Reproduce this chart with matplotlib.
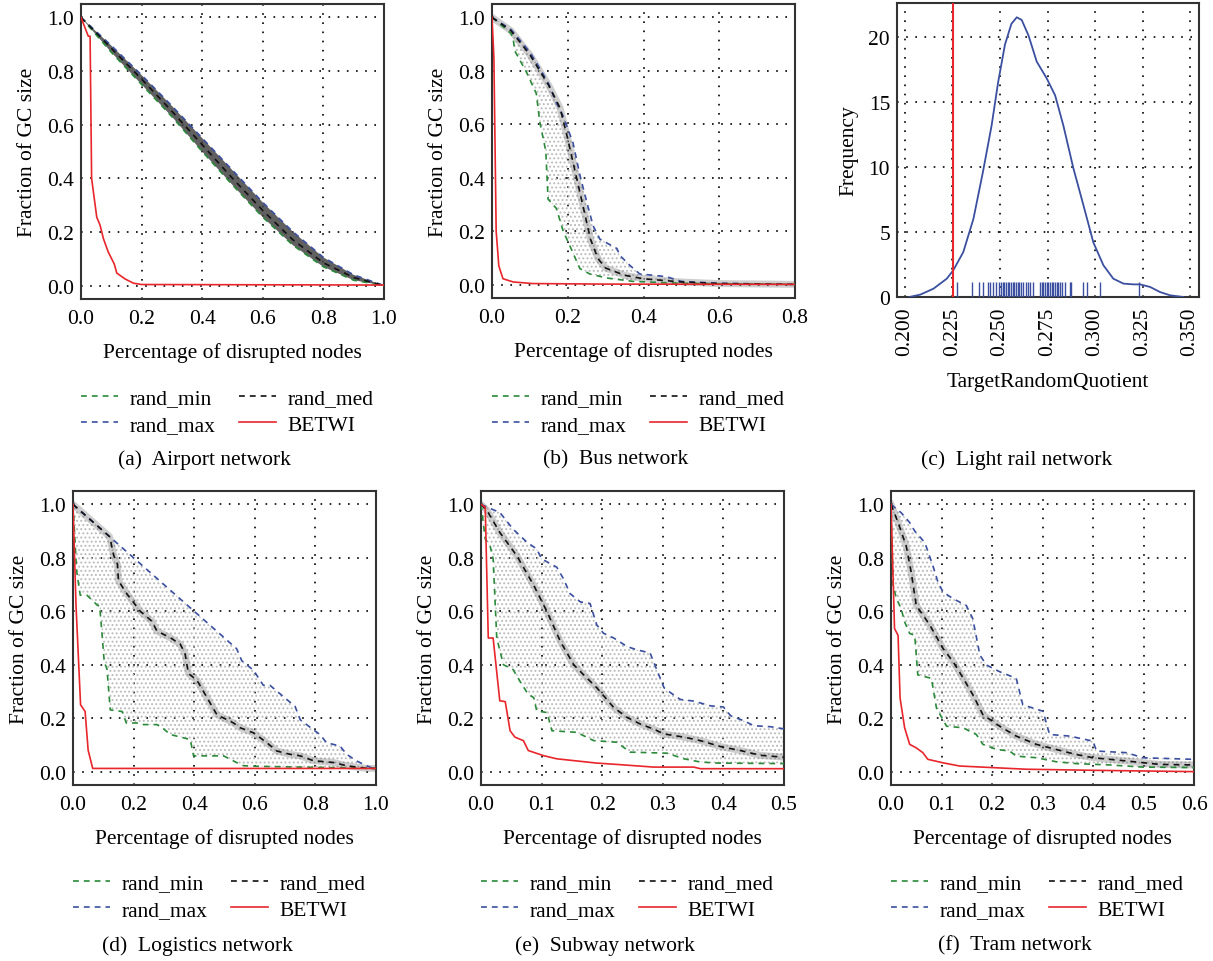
import numpy as np
import matplotlib.pyplot as plt
from matplotlib.lines import Line2D

plt.rcParams['font.family'] = ['Liberation Serif', 'DejaVu Serif']
plt.rcParams['font.size'] = 15.5
plt.rcParams['hatch.linewidth'] = 0.9

W, H = 1213, 962

GREEN = '#2a8a3a'
BLUE = '#3b4fa0'
RED = '#e8262b'
BLACK = '#111111'
DASH = (3.5, 3)

# ---------------- (a) Airport network
air_min_x = [0, 0.1, 0.2, 0.3, 0.4, 0.5, 0.6, 0.7, 0.8, 0.9, 1.0]
air_min_y = [1.0, 0.87, 0.75, 0.63, 0.50, 0.375, 0.255, 0.15, 0.07, 0.02, 0.0]
air_med_x = [0, 0.1, 0.2, 0.3, 0.4, 0.5, 0.6, 0.7, 0.8, 0.9, 1.0]
air_med_y = [1.0, 0.885, 0.77, 0.65, 0.525, 0.40, 0.28, 0.17, 0.085, 0.03, 0.0]
air_max_x = [0, 0.1, 0.2, 0.3, 0.4, 0.5, 0.6, 0.7, 0.8, 0.9, 1.0]
air_max_y = [1.0, 0.895, 0.785, 0.67, 0.55, 0.43, 0.31, 0.20, 0.105, 0.04, 0.0]
air_bet_x = [0, 0.024, 0.03, 0.035, 0.052, 0.063, 0.074, 0.09, 0.11, 0.118, 0.145, 0.173, 0.2, 1.0]
air_bet_y = [1.0, 0.93, 0.93, 0.40, 0.255, 0.225, 0.175, 0.125, 0.08, 0.047, 0.025, 0.009, 0.004, 0.002]

# ---------------- (b) Bus network
bus_min_x = [0, 0.05, 0.056, 0.06, 0.091, 0.117, 0.126, 0.142, 0.148, 0.17, 0.188, 0.205, 0.232, 0.258, 0.302, 0.373, 0.5, 0.8]
bus_min_y = [1.0, 0.94, 0.92, 0.875, 0.795, 0.715, 0.61, 0.50, 0.32, 0.285, 0.20, 0.147, 0.06, 0.04, 0.025, 0.012, 0.005, 0.001]
bus_med_x = [0, 0.05, 0.1, 0.15, 0.18, 0.2, 0.22, 0.24, 0.26, 0.28, 0.3, 0.35, 0.4, 0.5, 0.6, 0.8]
bus_med_y = [1.0, 0.95, 0.86, 0.745, 0.66, 0.545, 0.42, 0.296, 0.17, 0.097, 0.062, 0.035, 0.022, 0.01, 0.004, 0.001]
bus_max_x = [0, 0.05, 0.1, 0.13, 0.15, 0.17, 0.188, 0.214, 0.232, 0.25, 0.267, 0.285, 0.33, 0.337, 0.364, 0.39, 0.46, 0.5, 0.6, 0.8]
bus_max_y = [1.0, 0.955, 0.87, 0.80, 0.75, 0.68, 0.63, 0.53, 0.41, 0.31, 0.22, 0.17, 0.135, 0.11, 0.072, 0.04, 0.03, 0.012, 0.005, 0.001]
bus_bet_x = [0, 0.005, 0.011, 0.018, 0.029, 0.056, 0.108, 0.3, 0.8]
bus_bet_y = [1.0, 0.85, 0.20, 0.07, 0.022, 0.01, 0.004, 0.002, 0.001]

# ---------------- (c) Light rail network
lr_kde_x = [0.2023, 0.208, 0.215, 0.222, 0.2254, 0.2307, 0.236, 0.241, 0.2456, 0.249, 0.2526, 0.256,
            0.2588, 0.2614, 0.265, 0.2693, 0.2746, 0.279, 0.2833, 0.2886, 0.2939, 0.2991, 0.3044,
            0.3096, 0.3149, 0.3202, 0.3237, 0.329, 0.3342, 0.3395, 0.3465]
lr_kde_y = [0.0, 0.18, 0.64, 1.41, 2.05, 3.46, 6.0, 9.6, 13.2, 16.5, 19.4, 21.0,
            21.5, 21.3, 20.1, 18.1, 16.8, 15.5, 13.2, 9.9, 7.05, 4.2, 2.44,
            1.41, 1.03, 0.97, 0.97, 0.77, 0.38, 0.13, 0.0]
lr_rug = [0.2272, 0.2351, 0.2391, 0.2409, 0.2439, 0.2447, 0.2465, 0.2479, 0.2497, 0.2505, 0.2514,
          0.2523, 0.2532, 0.2540, 0.2549, 0.2558, 0.2567, 0.2575, 0.2584, 0.2593, 0.2602, 0.2611,
          0.2619, 0.2637, 0.2646, 0.2658, 0.2675, 0.2711, 0.2719, 0.2728, 0.2737, 0.2746, 0.2754,
          0.2763, 0.2772, 0.2781, 0.2789, 0.2798, 0.2807, 0.2816, 0.2825, 0.2842, 0.2868, 0.2874,
          0.2939, 0.2956, 0.3026, 0.3233]
lr_target = 0.2254

# ---------------- (d) Logistics network
log_min_x = [0, 0.012, 0.024, 0.046, 0.079, 0.088, 0.096, 0.103, 0.112, 0.123, 0.162, 0.176, 0.211,
             0.233, 0.277, 0.299, 0.321, 0.387, 0.398, 0.497, 0.54, 0.563, 0.607, 1.0]
log_min_y = [1.0, 0.75, 0.66, 0.66, 0.624, 0.618, 0.513, 0.41, 0.385, 0.231, 0.225, 0.182, 0.182,
             0.176, 0.176, 0.16, 0.139, 0.12, 0.059, 0.059, 0.034, 0.022, 0.02, 0.012]
log_med_x = [0, 0.12, 0.123, 0.134, 0.147, 0.15, 0.178, 0.222, 0.26, 0.277, 0.321, 0.354, 0.37, 0.381,
             0.409, 0.453, 0.475, 0.53, 0.552, 0.596, 0.64, 0.673, 0.716, 0.75, 0.793, 0.86, 0.903, 0.969, 1.0]
log_med_y = [1.0, 0.88, 0.87, 0.81, 0.775, 0.714, 0.665, 0.60, 0.563, 0.526, 0.501, 0.477, 0.44, 0.367,
             0.342, 0.256, 0.213, 0.182, 0.164, 0.145, 0.108, 0.077, 0.065, 0.059, 0.041, 0.034, 0.022, 0.012, 0.012]
log_max_x = [0, 0.54, 0.557, 0.596, 0.628, 0.65, 0.695, 0.733, 0.75, 0.793, 0.815, 0.837, 0.881, 0.903,
             0.936, 0.969, 0.99, 1.0]
log_max_y = [1.0, 0.46, 0.415, 0.379, 0.323, 0.323, 0.28, 0.244, 0.194, 0.157, 0.139, 0.108, 0.096, 0.065,
             0.04, 0.022, 0.012, 0.012]
log_bet_x = [0, 0.01, 0.025, 0.04, 0.05, 0.065, 1.0]
log_bet_y = [1.0, 0.62, 0.25, 0.225, 0.08, 0.012, 0.012]

# ---------------- (e) Subway network
sub_min_x = [0, 0.007, 0.015, 0.02, 0.026, 0.037, 0.053, 0.064, 0.078, 0.087, 0.092, 0.109, 0.117, 0.158,
             0.186, 0.224, 0.246, 0.307, 0.335, 0.362, 0.39, 0.5]
sub_min_y = [1.0, 0.87, 0.845, 0.796, 0.50, 0.40, 0.382, 0.339, 0.289, 0.277, 0.227, 0.221, 0.153, 0.147,
             0.116, 0.11, 0.073, 0.069, 0.048, 0.036, 0.032, 0.03]
sub_med_x = [0, 0.009, 0.031, 0.059, 0.087, 0.109, 0.131, 0.153, 0.169, 0.191, 0.219, 0.241, 0.263, 0.285,
             0.302, 0.335, 0.362, 0.395, 0.428, 0.461, 0.5]
sub_med_y = [1.0, 0.98, 0.895, 0.808, 0.697, 0.598, 0.487, 0.40, 0.363, 0.314, 0.24, 0.203, 0.178, 0.159,
             0.141, 0.129, 0.116, 0.094, 0.079, 0.061, 0.054]
sub_max_x = [0, 0.02, 0.031, 0.053, 0.076, 0.092, 0.1, 0.125, 0.136, 0.147, 0.164, 0.18, 0.191, 0.202,
             0.219, 0.241, 0.257, 0.279, 0.302, 0.313, 0.329, 0.351, 0.379, 0.4, 0.412, 0.434, 0.45, 0.478, 0.5]
sub_max_y = [1.0, 0.98, 0.97, 0.907, 0.858, 0.833, 0.796, 0.765, 0.722, 0.666, 0.635, 0.629, 0.549, 0.518,
             0.50, 0.468, 0.456, 0.444, 0.314, 0.295, 0.27, 0.264, 0.246, 0.242, 0.209, 0.19, 0.172, 0.168, 0.16]
sub_bet_x = [0, 0.007, 0.012, 0.02, 0.031, 0.04, 0.048, 0.056, 0.07, 0.078, 0.103, 0.125, 0.158, 0.191,
             0.224, 0.285, 0.351, 0.362, 0.5]
sub_bet_y = [1.0, 0.99, 0.50, 0.50, 0.265, 0.262, 0.153, 0.129, 0.116, 0.079, 0.06, 0.048, 0.04, 0.032,
             0.027, 0.017, 0.017, 0.011, 0.011]

# ---------------- (f) Tram network
tram_min_x = [0, 0.004, 0.011, 0.02, 0.027, 0.037, 0.047, 0.053, 0.08, 0.09, 0.11, 0.143, 0.156, 0.169,
              0.182, 0.209, 0.235, 0.248, 0.288, 0.327, 0.367, 0.433, 0.499, 0.6]
tram_min_y = [1.0, 0.696, 0.647, 0.61, 0.56, 0.517, 0.51, 0.362, 0.349, 0.238, 0.17, 0.164, 0.151, 0.139,
              0.102, 0.083, 0.077, 0.058, 0.052, 0.037, 0.03, 0.025, 0.017, 0.015]
tram_med_x = [0, 0.014, 0.03, 0.04, 0.05, 0.077, 0.103, 0.123, 0.139, 0.162, 0.182, 0.215, 0.248, 0.288,
              0.327, 0.367, 0.4, 0.466, 0.532, 0.6]
tram_med_y = [1.0, 0.932, 0.845, 0.746, 0.622, 0.548, 0.461, 0.411, 0.362, 0.288, 0.213, 0.17, 0.133, 0.102,
              0.083, 0.064, 0.052, 0.04, 0.027, 0.025]
tram_max_x = [0, 0.02, 0.037, 0.047, 0.067, 0.083, 0.093, 0.103, 0.123, 0.149, 0.162, 0.176, 0.189, 0.215,
              0.248, 0.261, 0.301, 0.314, 0.354, 0.4, 0.407, 0.466, 0.499, 0.6]
tram_max_y = [1.0, 0.969, 0.932, 0.90, 0.857, 0.77, 0.709, 0.672, 0.647, 0.622, 0.572, 0.436, 0.399, 0.374,
              0.349, 0.25, 0.226, 0.139, 0.133, 0.114, 0.077, 0.071, 0.052, 0.046]
tram_bet_x = [0, 0.007, 0.014, 0.018, 0.027, 0.037, 0.05, 0.063, 0.073, 0.103, 0.136, 0.202, 0.268, 0.4, 0.6]
tram_bet_y = [1.0, 0.535, 0.51, 0.275, 0.164, 0.102, 0.089, 0.071, 0.046, 0.033, 0.021, 0.015, 0.009, 0.005, 0.0]


def add_ax(fig, left, top, right, bottom):
    return fig.add_axes([left / W, 1 - bottom / H, (right - left) / W, (bottom - top) / H])


def style_ax(ax):
    ax.grid(True, color='k', lw=1.2, linestyle=(0, (1, 4.5)))
    ax.set_axisbelow(True)
    for s in ax.spines.values():
        s.set_color('#333333')
        s.set_linewidth(1.5)
    ax.tick_params(axis='x', length=0, pad=7)
    ax.tick_params(axis='y', length=0, pad=5)


def gc_panel(fig, box, mins, meds, maxs, bets, xmax, xticks, legend_xy, dark=False):
    ax = add_ax(fig, *box)
    style_ax(ax)
    # band of the random runs
    px = np.concatenate([maxs[0], mins[0][::-1]])
    py = np.concatenate([maxs[1], mins[1][::-1]])
    if dark:
        ax.fill(px, py, facecolor='#444444', edgecolor='none', alpha=0.85, zorder=1)
    else:
        ax.fill(px, py, facecolor='none', edgecolor='#bbbbbb', hatch='....', lw=0, zorder=1)
        ax.plot(meds[0], meds[1], color='#777777', lw=5, alpha=0.35, zorder=1)
    ax.plot(mins[0], mins[1], color=GREEN, lw=1.2, dashes=DASH, zorder=3)
    ax.plot(maxs[0], maxs[1], color=BLUE, lw=1.2, dashes=DASH, zorder=3)
    ax.plot(meds[0], meds[1], color=BLACK, lw=1.2, dashes=DASH, zorder=4)
    ax.plot(bets[0], bets[1], color=RED, lw=1.2, zorder=5)
    ax.set_xlim(0, xmax)
    ax.set_ylim(-0.05, 1.05)
    ax.set_xticks(xticks)
    ax.set_yticks([0, 0.2, 0.4, 0.6, 0.8, 1.0])
    ax.xaxis.set_major_formatter(plt.FormatStrFormatter('%.1f'))
    ax.yaxis.set_major_formatter(plt.FormatStrFormatter('%.1f'))
    ax.set_xlabel('Percentage of disrupted nodes', labelpad=10)
    ax.set_ylabel('Fraction of GC size', labelpad=7)
    handles = [Line2D([], [], color=GREEN, lw=1.2, dashes=DASH),
               Line2D([], [], color=BLUE, lw=1.2, dashes=DASH),
               Line2D([], [], color=BLACK, lw=1.2, dashes=DASH),
               Line2D([], [], color=RED, lw=1.2)]
    labels = ['rand_min', 'rand_max', 'rand_med', 'BETWI']
    fig.legend(handles, labels, ncol=2, frameon=False, loc='upper left',
               bbox_to_anchor=(legend_xy[0] / W, 1 - legend_xy[1] / H),
               borderpad=0, borderaxespad=0, handlelength=1.7, handletextpad=0.55,
               columnspacing=1.1, labelspacing=0.3)
    return ax


fig = plt.figure(figsize=(W / 100, H / 100), dpi=100)

gc_panel(fig, (81, 5, 384, 300), (air_min_x, air_min_y), (air_med_x, air_med_y),
         (air_max_x, air_max_y), (air_bet_x, air_bet_y), 1.0,
         [0, 0.2, 0.4, 0.6, 0.8, 1.0], (81, 389), dark=True)
gc_panel(fig, (492, 5, 795, 299), (bus_min_x, bus_min_y), (bus_med_x, bus_med_y),
         (bus_max_x, bus_max_y), (bus_bet_x, bus_bet_y), 0.8,
         [0, 0.2, 0.4, 0.6, 0.8], (492, 389))
gc_panel(fig, (73, 492, 376, 786), (log_min_x, log_min_y), (log_med_x, log_med_y),
         (log_max_x, log_max_y), (log_bet_x, log_bet_y), 1.0,
         [0, 0.2, 0.4, 0.6, 0.8, 1.0], (73, 874))
gc_panel(fig, (481, 492, 784, 786), (sub_min_x, sub_min_y), (sub_med_x, sub_med_y),
         (sub_max_x, sub_max_y), (sub_bet_x, sub_bet_y), 0.5,
         [0, 0.1, 0.2, 0.3, 0.4, 0.5], (481, 874))
gc_panel(fig, (891, 492, 1194, 786), (tram_min_x, tram_min_y), (tram_med_x, tram_med_y),
         (tram_max_x, tram_max_y), (tram_bet_x, tram_bet_y), 0.6,
         [0, 0.1, 0.2, 0.3, 0.4, 0.5, 0.6], (891, 874))

# (c) density of the target/random quotient
axc = add_ax(fig, 897, 4, 1199, 298)
style_ax(axc)
axc.plot(lr_kde_x, lr_kde_y, color=BLUE, lw=1.3, zorder=3)
axc.vlines(lr_rug, 0, 0.05, color=BLUE, lw=1.0, transform=axc.get_xaxis_transform(), zorder=3)
axc.axvline(lr_target, color=RED, lw=1.5, zorder=4)
axc.set_xlim(0.1958, 0.3547)
axc.set_ylim(0, 22.6)
axc.set_xticks([0.200, 0.225, 0.250, 0.275, 0.300, 0.325, 0.350])
axc.xaxis.set_major_formatter(plt.FormatStrFormatter('%.3f'))
axc.set_yticks([0, 5, 10, 15, 20])
axc.tick_params(axis='x', labelrotation=90)
axc.set_xlabel('TargetRandomQuotient', labelpad=12)
axc.set_ylabel('Frequency', labelpad=7)

captions = ['(a)  Airport network', '(b)  Bus network', '(c)  Light rail network',
            '(d)  Logistics network', '(e)  Subway network', '(f)  Tram network']
cap_xy = [(204, 460), (616, 460), (1017, 460), (197, 946), (605, 946), (1015, 946)]
for txt, (cx, cy) in zip(captions, cap_xy):
    fig.text(cx / W, 1 - cy / H, txt, ha='center', va='center')

plt.savefig('out.png', dpi=100)
